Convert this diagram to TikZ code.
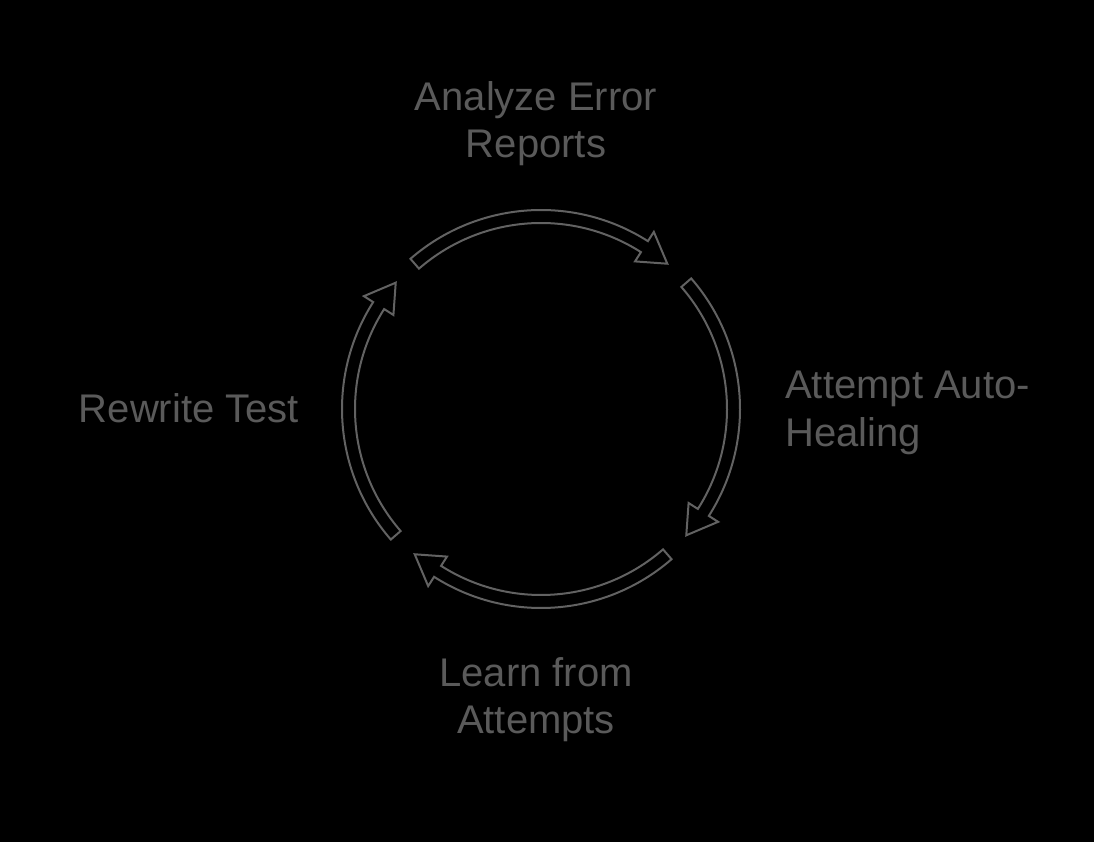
\documentclass[tikz,border=0pt]{standalone}
\usepackage{fontspec}
\setmainfont{Liberation Sans}
\begin{document}
\begin{tikzpicture}[x=0.75pt,y=0.75pt,
  lbl/.style={text=txtgray, font=\fontsize{30}{35.5}\selectfont, inner sep=0pt, align=center},
  cyclearrow/.style={draw=arrgray, line width=1.5pt, line join=miter}]
\definecolor{txtgray}{HTML}{5A5A5A}
\definecolor{arrgray}{HTML}{626262}
\fill[black] (0,0) rectangle (1094,842);
\useasboundingbox (0,0) rectangle (1094,842);
\coordinate (c) at (541,433);
\begin{scope}[shift={(c)}]
\foreach \t in {90,0,-90,180} {
  \draw[cyclearrow]
    (\t+41:199) arc[start angle=\t+41, end angle=\t-32.5, radius=149.25pt]
    -- (\t-32.5:210) -- (\t-41:192.5) -- (\t-32.5:175) -- (\t-32.5:186)
    arc[start angle=\t-32.5, end angle=\t+41, radius=139.5pt] -- cycle;
}
\end{scope}
\node[lbl] (analyze) at (536,718) {Analyze Error\\Reports};
\node[lbl, anchor=west, align=left] (heal) at (785,429) {Attempt Auto-\\Healing};
\node[lbl] (learn) at (536,142) {Learn from\\Attempts};
\node[lbl] (rewrite) at (189,434) {Rewrite Test};
\end{tikzpicture}
\end{document}
